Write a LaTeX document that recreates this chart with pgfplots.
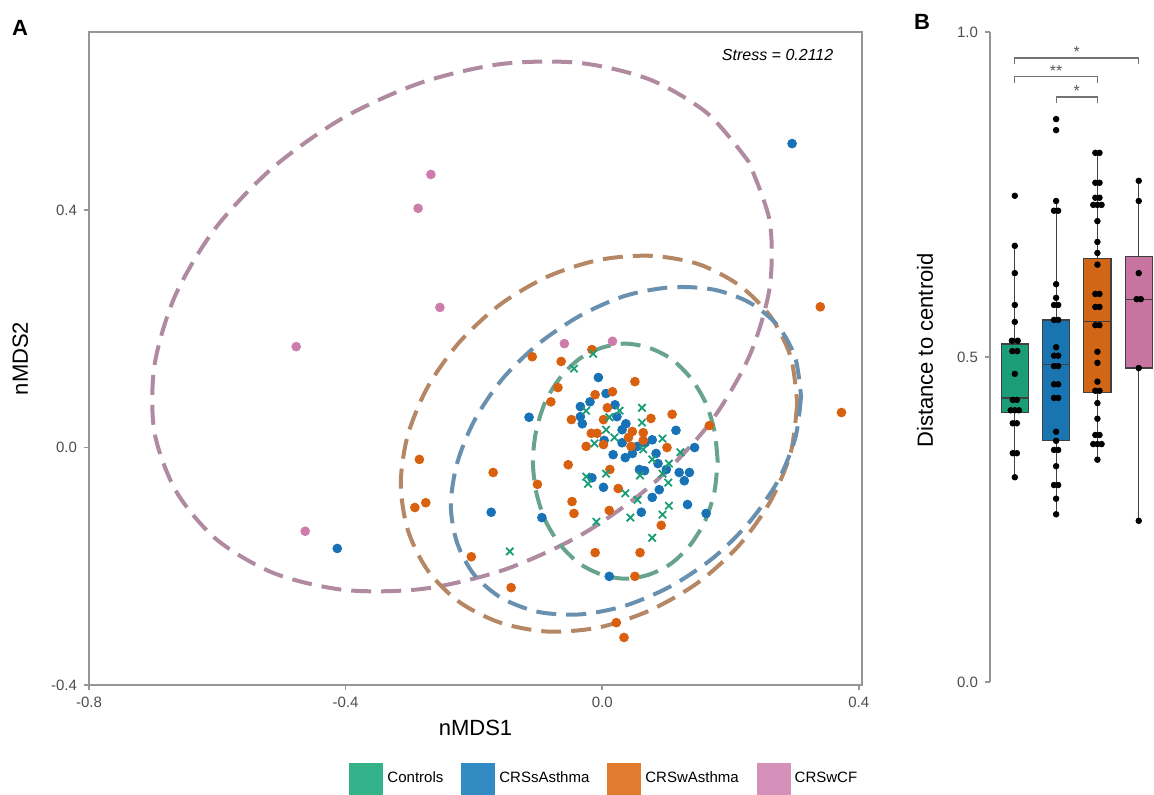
\documentclass[border=0pt]{standalone}
\usepackage{fontspec}
\setmainfont{Liberation Sans}
\usepackage{pgfplots}
\pgfplotsset{compat=1.18}
\usepgfplotslibrary{statistics}

\definecolor{ptGreen}{RGB}{27,158,119}
\definecolor{ptBlue}{RGB}{24,114,182}
\definecolor{ptOrange}{RGB}{216,96,14}
\definecolor{ptPink}{RGB}{206,124,172}
\definecolor{elGreen}{RGB}{104,164,140}
\definecolor{elBlue}{RGB}{105,144,175}
\definecolor{elBrown}{RGB}{182,135,100}
\definecolor{elPink}{RGB}{176,138,160}
\definecolor{bxGreen}{RGB}{27,158,119}
\definecolor{bxBlue}{RGB}{24,117,178}
\definecolor{bxOrange}{RGB}{208,102,22}
\definecolor{bxPink}{RGB}{200,116,160}
\definecolor{lgGreen}{RGB}{52,178,138}
\definecolor{lgBlue}{RGB}{50,140,195}
\definecolor{lgOrange}{RGB}{226,125,48}
\definecolor{lgPink}{RGB}{213,145,185}
\definecolor{frame}{RGB}{150,150,150}
\definecolor{ticktext}{RGB}{77,77,77}

\pgfplotsset{
  ell/.style={line width=2pt, dash pattern=on 10pt off 5pt, smooth, forget plot},
  dots/.style={only marks, mark=*, mark size=2.2pt, forget plot},
  bdots/.style={only marks, mark=*, mark size=1.4pt, black, forget plot},
}

\begin{document}
\begin{tikzpicture}
\useasboundingbox (0,0) rectangle (577pt,397.5pt);

% ---------------- panel A: nMDS ----------------
\begin{axis}[
  at={(44.5pt,55pt)}, anchor=south west,
  scale only axis, width=386.5pt, height=326.5pt,
  xmin=-0.8, xmax=0.405, ymin=-0.4, ymax=0.7,
  xtick={-0.8,-0.4,0,0.4}, xticklabels={-0.8,-0.4,0.0,0.4},
  ytick={-0.4,0,0.4}, yticklabels={-0.4,0.0,0.4},
  xtick pos=lower, ytick pos=left,
  tick align=outside, major tick length=2.5pt,
  tick style={frame, line width=0.8pt},
  axis line style={frame, line width=0.9pt},
  tick label style={font=\fontsize{7.5}{9}\selectfont, text=ticktext},
  xlabel={nMDS1}, ylabel={nMDS2},
  label style={font=\fontsize{11}{13}\selectfont},
  xlabel style={at={(axis description cs:0.5,-0.066)}, anchor=center},
  ylabel style={at={(axis description cs:-0.089,0.5)}, anchor=center},
  legend image code/.code={\fill[#1, draw=none] (0pt,-8pt) rectangle (17pt,8pt);},
  legend style={draw=none, fill=none, legend columns=4,
    at={(0.668,-0.144)}, anchor=center,
    font=\fontsize{7.5}{9}\selectfont,
    /tikz/every even column/.append style={column sep=7pt}},
]
\addlegendimage{fill=lgGreen}\addlegendentry{Controls}
\addlegendimage{fill=lgBlue}\addlegendentry{CRSsAsthma}
\addlegendimage{fill=lgOrange}\addlegendentry{CRSwAsthma}
\addlegendimage{fill=lgPink}\addlegendentry{CRSwCF}

% CRSwCF ellipse
\addplot[ell, elPink] coordinates {
(0.228,0.482) (0.164,0.563) (0.074,0.620) (-0.036,0.648) (-0.158,0.646)
(-0.284,0.614) (-0.406,0.554) (-0.515,0.470) (-0.604,0.368) (-0.666,0.255)
(-0.698,0.138) (-0.698,0.026) (-0.664,-0.074) (-0.601,-0.155) (-0.511,-0.212)
(-0.401,-0.240) (-0.279,-0.238) (-0.153,-0.206) (-0.031,-0.146) (0.078,-0.062)
(0.167,0.040) (0.229,0.153) (0.261,0.269) (0.261,0.382) (0.228,0.482)};
% CRSwAsthma ellipse
\addplot[ell, elBrown] coordinates {
(0.304,0.075) (0.294,-0.008) (0.263,-0.089) (0.214,-0.164) (0.150,-0.227)
(0.075,-0.274) (-0.005,-0.303) (-0.085,-0.310) (-0.159,-0.295) (-0.223,-0.260)
(-0.272,-0.207) (-0.303,-0.139) (-0.314,-0.061) (-0.303,0.021) (-0.272,0.102)
(-0.223,0.177) (-0.159,0.241) (-0.085,0.288) (-0.005,0.316) (0.075,0.323)
(0.150,0.309) (0.214,0.273) (0.263,0.220) (0.294,0.152) (0.304,0.075)};
% CRSsAsthma ellipse
\addplot[ell, elBlue] coordinates {
(0.310,0.086) (0.301,0.016) (0.274,-0.056) (0.230,-0.125) (0.174,-0.185)
(0.108,-0.233) (0.037,-0.266) (-0.033,-0.281) (-0.099,-0.277) (-0.156,-0.254)
(-0.199,-0.215) (-0.226,-0.161) (-0.236,-0.097) (-0.226,-0.026) (-0.199,0.046)
(-0.156,0.115) (-0.099,0.175) (-0.033,0.223) (0.037,0.256) (0.108,0.270)
(0.174,0.266) (0.230,0.244) (0.274,0.205) (0.301,0.151) (0.310,0.086)};
% Controls ellipse
\addplot[ell, elGreen] coordinates {
(0.180,-0.023) (0.175,0.028) (0.161,0.076) (0.138,0.117) (0.108,0.149)
(0.073,0.168) (0.036,0.175) (-0.001,0.168) (-0.036,0.149) (-0.066,0.117)
(-0.089,0.076) (-0.103,0.028) (-0.108,-0.023) (-0.103,-0.074) (-0.089,-0.122)
(-0.066,-0.163) (-0.036,-0.195) (-0.001,-0.214) (0.036,-0.221) (0.073,-0.214)
(0.108,-0.195) (0.138,-0.163) (0.161,-0.122) (0.175,-0.074) (0.180,-0.023)};

% CRSsAsthma points
\addplot[dots, ptBlue] table {
x y
-0.006 0.118
0.006 0.091
-0.019 0.077
-0.034 0.069
0.020 0.072
0.023 0.052
-0.114 0.051
-0.034 0.052
-0.031 0.040
0.037 0.040
0.031 0.030
0.003 0.012
0.031 0.008
0.078 0.013
0.055 0.002
0.144 0.000
0.067 0.008
0.017 -0.012
0.036 -0.017
0.047 -0.010
0.084 -0.010
0.087 -0.027
0.058 -0.037
0.066 -0.039
0.100 -0.037
0.120 -0.042
0.136 -0.042
0.128 -0.056
-0.016 -0.051
0.002 -0.067
0.089 -0.071
0.078 -0.084
0.133 -0.096
0.061 -0.109
0.162 -0.111
-0.094 -0.118
-0.173 -0.109
0.011 -0.217
0.115 0.029
0.296 0.512
-0.413 -0.170
};
% CRSwAsthma points
\addplot[dots, ptOrange] table {
x y
-0.109 0.153
-0.064 0.145
-0.016 0.165
-0.069 0.101
-0.011 0.089
0.016 0.094
-0.080 0.077
0.008 0.067
-0.048 0.047
0.002 0.047
-0.017 0.024
-0.008 0.024
-0.025 0.002
0.002 0.005
0.051 0.111
0.076 0.049
0.109 0.056
0.047 0.027
0.064 0.025
0.041 0.017
0.064 0.012
0.045 0.002
0.101 0.000
0.167 0.037
-0.053 -0.029
0.012 -0.037
0.025 -0.069
-0.101 -0.062
-0.047 -0.091
-0.044 -0.111
0.011 -0.106
-0.011 -0.177
0.059 -0.177
0.092 -0.131
0.051 -0.217
0.022 -0.295
0.034 -0.320
-0.170 -0.042
-0.285 -0.020
-0.292 -0.101
-0.275 -0.093
-0.204 -0.184
-0.142 -0.236
0.340 0.237
0.373 0.059
};
% CRSwCF points
\addplot[dots, ptPink] table {
x y
-0.267 0.460
-0.287 0.403
-0.253 0.236
-0.477 0.170
-0.463 -0.141
-0.059 0.175
0.016 0.179
};
% Controls points
\addplot[only marks, mark=x, mark size=2.6pt, ptGreen, line width=0.9pt, forget plot] table {
x y
-0.014 0.158
-0.044 0.133
-0.025 0.062
0.011 0.051
0.027 0.062
0.062 0.067
0.062 0.042
0.006 0.030
0.019 0.017
-0.012 0.007
0.094 0.015
0.122 -0.008
0.064 -0.003
0.078 -0.020
0.104 -0.027
0.059 -0.047
0.094 -0.044
0.103 -0.059
0.036 -0.077
0.055 -0.088
0.104 -0.098
0.094 -0.113
0.044 -0.118
0.078 -0.152
-0.025 -0.049
-0.022 -0.061
0.006 -0.044
-0.009 -0.125
-0.144 -0.175
};
\node[anchor=east, font=\fontsize{8}{10}\selectfont\itshape]
  at (rel axis cs:0.972,0.965) {Stress = 0.2112};
\end{axis}

% ---------------- panel B: distance to centroid ----------------
\begin{axis}[
  at={(495pt,56.5pt)}, anchor=south west,
  scale only axis, width=82pt, height=325pt,
  xmin=0.4, xmax=4.37, ymin=0, ymax=1,
  axis x line=none, axis y line=left,
  axis line style={-, frame, line width=0.9pt},
  ytick={0,0.5,1}, yticklabels={0.0,0.5,1.0},
  tick align=outside, major tick length=2.5pt,
  tick style={frame, line width=0.8pt},
  tick label style={font=\fontsize{7.5}{9}\selectfont, text=ticktext},
  ylabel={Distance to centroid},
  ylabel style={font=\fontsize{11}{13}\selectfont,
    at={(axis description cs:-0.396,0.51)}, anchor=center},
  clip=false,
  boxplot/draw direction=y,
  boxplot/box extend=0.66,
  boxplot/whisker extend=0,
]
\addplot[boxplot prepared={median=0.437, lower quartile=0.415, upper quartile=0.520,
  lower whisker=0.315, upper whisker=0.671, draw position=1},
  fill=bxGreen, draw=black!75, line width=0.6pt, forget plot] coordinates {};
\addplot[boxplot prepared={median=0.489, lower quartile=0.371, upper quartile=0.557,
  lower whisker=0.258, upper whisker=0.740, draw position=2},
  fill=bxBlue, draw=black!75, line width=0.6pt, forget plot] coordinates {};
\addplot[boxplot prepared={median=0.554, lower quartile=0.445, upper quartile=0.651,
  lower whisker=0.342, upper whisker=0.814, draw position=3},
  fill=bxOrange, draw=black!75, line width=0.6pt, forget plot] coordinates {};
\addplot[boxplot prepared={median=0.589, lower quartile=0.483, upper quartile=0.655,
  lower whisker=0.248, upper whisker=0.771, draw position=4},
  fill=bxPink, draw=black!75, line width=0.6pt, forget plot] coordinates {};

\addplot[bdots] table {
x y
1 0.748
1 0.671
1 0.629
1 0.580
1 0.554
0.93 0.525
1.07 0.525
0.94 0.509
1.06 0.509
1 0.474
0.95 0.434
1.05 0.434
0.9 0.418
1 0.418
1.1 0.418
0.95 0.398
1.05 0.398
0.95 0.352
1.05 0.352
1 0.315
2 0.866
2 0.849
2 0.740
1.95 0.725
2.05 0.725
2 0.612
2 0.591
1.95 0.580
2.05 0.580
1.95 0.557
2.05 0.557
2 0.515
1.95 0.502
2.05 0.502
1.95 0.486
2.05 0.486
1.95 0.458
2.05 0.458
1.95 0.437
2.05 0.437
2 0.385
2 0.371
1.95 0.357
2.05 0.357
2 0.332
1.95 0.303
2.05 0.303
2 0.282
2 0.258
2.95 0.814
3.05 0.814
2.95 0.768
3.05 0.768
2.95 0.745
3.05 0.745
2.9 0.734
3 0.734
3.1 0.734
3 0.709
3 0.677
3 0.660
3 0.642
2.95 0.597
3.05 0.597
2.95 0.577
3.05 0.577
2.95 0.549
3.05 0.549
3 0.508
3 0.491
3 0.462
2.95 0.448
3.05 0.448
3 0.429
3 0.405
2.95 0.380
3.05 0.380
2.9 0.366
3 0.366
3.1 0.366
3 0.342
4 0.771
4 0.740
4 0.629
3.95 0.589
4.05 0.589
4 0.483
4 0.248
};

% significance brackets
\addplot[black!55, line width=0.6pt, forget plot] coordinates {(1,0.950) (1,0.960) (4,0.960) (4,0.950)};
\addplot[black!55, line width=0.6pt, forget plot] coordinates {(1,0.921) (1,0.931) (3,0.931) (3,0.921)};
\addplot[black!55, line width=0.6pt, forget plot] coordinates {(2,0.890) (2,0.900) (3,0.900) (3,0.890)};
\node[anchor=south, inner sep=0.5pt, text=black!65, font=\fontsize{8}{8}\selectfont] at (axis cs:2.5,0.958) {*};
\node[anchor=south, inner sep=0.5pt, text=black!65, font=\fontsize{8}{8}\selectfont] at (axis cs:2,0.929) {**};
\node[anchor=south, inner sep=0.5pt, text=black!65, font=\fontsize{8}{8}\selectfont] at (axis cs:2.5,0.898) {*};
\end{axis}

\node[font=\fontsize{11}{13}\selectfont\bfseries] at (10pt,383.5pt) {A};
\node[font=\fontsize{11}{13}\selectfont\bfseries] at (461pt,386.5pt) {B};
\end{tikzpicture}
\end{document}
